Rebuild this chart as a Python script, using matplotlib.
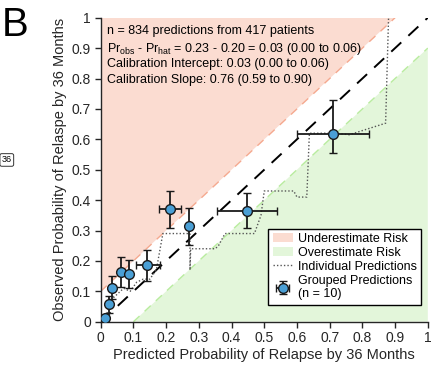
import numpy as np
import matplotlib.pyplot as plt

plt.rcParams['font.family'] = ['Liberation Sans', 'DejaVu Sans']
plt.rcParams['mathtext.fontset'] = 'custom'
plt.rcParams['mathtext.rm'] = 'Liberation Sans'
plt.rcParams['mathtext.it'] = 'Liberation Sans'

# grouped predictions (deciles)
grp_x = [0.013, 0.025, 0.035, 0.061, 0.087, 0.143, 0.211, 0.271, 0.447, 0.710]
grp_y = [0.011, 0.058, 0.111, 0.164, 0.158, 0.186, 0.371, 0.314, 0.365, 0.618]
y_lo = [0.004, 0.030, 0.074, 0.115, 0.111, 0.135, 0.307, 0.251, 0.307, 0.555]
y_hi = [0.020, 0.085, 0.151, 0.212, 0.202, 0.236, 0.431, 0.374, 0.422, 0.730]
x_lo = [0.008, 0.020, 0.030, 0.055, 0.080, 0.108, 0.177, 0.265, 0.355, 0.600]
x_hi = [0.018, 0.030, 0.040, 0.067, 0.094, 0.181, 0.246, 0.277, 0.540, 0.820]

# individual predictions (smoothed step curve)
ind_x = [0.0, 0.02, 0.03, 0.05, 0.07, 0.09, 0.11, 0.13, 0.15, 0.17, 0.19, 0.195,
         0.273, 0.273, 0.275, 0.35, 0.36, 0.38, 0.47, 0.49, 0.50, 0.59, 0.60,
         0.63, 0.638, 0.72, 0.76, 0.871, 0.88]
ind_y = [0.0, 0.03, 0.07, 0.09, 0.11, 0.10, 0.13, 0.14, 0.14, 0.17, 0.29, 0.29,
         0.29, 0.17, 0.24, 0.24, 0.25, 0.29, 0.29, 0.35, 0.43, 0.43, 0.41,
         0.41, 0.62, 0.62, 0.615, 0.653, 1.0]

stats = ['n = 834 predictions from 417 patients',
         r'Pr$_{\mathrm{obs}}$ - Pr$_{\mathrm{hat}}$ = 0.23 - 0.20 = 0.03 (0.00 to 0.06)',
         'Calibration Intercept: 0.03 (0.00 to 0.06)',
         'Calibration Slope: 0.76 (0.59 to 0.90)']

pink = '#fbdcd1'
green = '#e3f6da'
axc = '#262626'

fig = plt.figure(figsize=(4.33, 3.72), dpi=100)
ax = fig.add_axes([0.2326, 0.1352, 0.7554, 0.8172])

ax.fill([0, 0.9, 0], [0.1, 1, 1], color=pink, lw=0, label='Underestimate Risk')
ax.fill([0.1, 1, 1], [0, 0.9, 0], color=green, lw=0, label='Overestimate Risk')
ax.plot([0, 0.9], [0.1, 1], ls=(0, (6, 5)), color='#f5a98f', lw=1)
ax.plot([0.1, 1], [0, 0.9], ls=(0, (6, 5)), color='#b9ec9f', lw=1)
ax.plot([0, 1], [0, 1], ls=(0, (7, 5)), color='black', lw=1.4)

ax.plot(ind_x, ind_y, ls=(0, (1, 1.5)), color='#555555', lw=1.0, label='Individual Predictions')

gx = np.array(grp_x)
gy = np.array(grp_y)
yerr = [gy - np.array(y_lo), np.array(y_hi) - gy]
xerr = [gx - np.array(x_lo), np.array(x_hi) - gx]
ax.errorbar(gx, gy, yerr=yerr, xerr=xerr, fmt='o', ms=7, mfc='#4a9fd5',
            mec='#1a1a1a', mew=1, ecolor='#1a1a1a', elinewidth=1.3, capsize=3,
            capthick=1.3, label='Grouped Predictions\n(n = 10)', zorder=5)

ax.set_xlim(0, 1)
ax.set_ylim(0, 1)
ticks = np.round(np.arange(0, 1.01, 0.1), 1)
ticklabels = ['0'] + ['%.1f' % t for t in ticks[1:-1]] + ['1']
ax.set_xticks(ticks)
ax.set_xticklabels(ticklabels)
ax.set_yticks(ticks)
ax.set_yticklabels(ticklabels)
ax.tick_params(direction='out', length=4, width=1, colors=axc, labelsize=10, pad=3)
for s in ['top', 'right']:
    ax.spines[s].set_visible(False)
for s in ['left', 'bottom']:
    ax.spines[s].set_color(axc)
    ax.spines[s].set_linewidth(1)

ax.set_xlabel('Predicted Probability of Relapse by 36 Months', fontsize=10.5, color=axc, labelpad=2)
ax.set_ylabel('Observed Probability of Relaspe by 36 Months', fontsize=10.5, color=axc, labelpad=3)

for i, line in enumerate(stats):
    ax.text(0.02, 0.975 - i * 0.053, line, transform=ax.transAxes, fontsize=9,
            va='top', ha='left', color='black')

leg = ax.legend(loc='lower right', bbox_to_anchor=(0.998, 0.035), fontsize=9,
                frameon=True, fancybox=False, edgecolor='black', framealpha=1,
                handlelength=1.6, handletextpad=0.4, borderpad=0.35, labelspacing=0.15)
leg.get_frame().set_linewidth(1)

fig.text(0.005, 0.985, 'B', fontsize=29, va='top', ha='left')
fig.text(0.004, 0.57, '36', fontsize=6.5, va='center', ha='left',
         bbox=dict(boxstyle='round,pad=0.2', fc='white', ec='#333333', lw=0.7))

fig.savefig('out.png', dpi=100)
